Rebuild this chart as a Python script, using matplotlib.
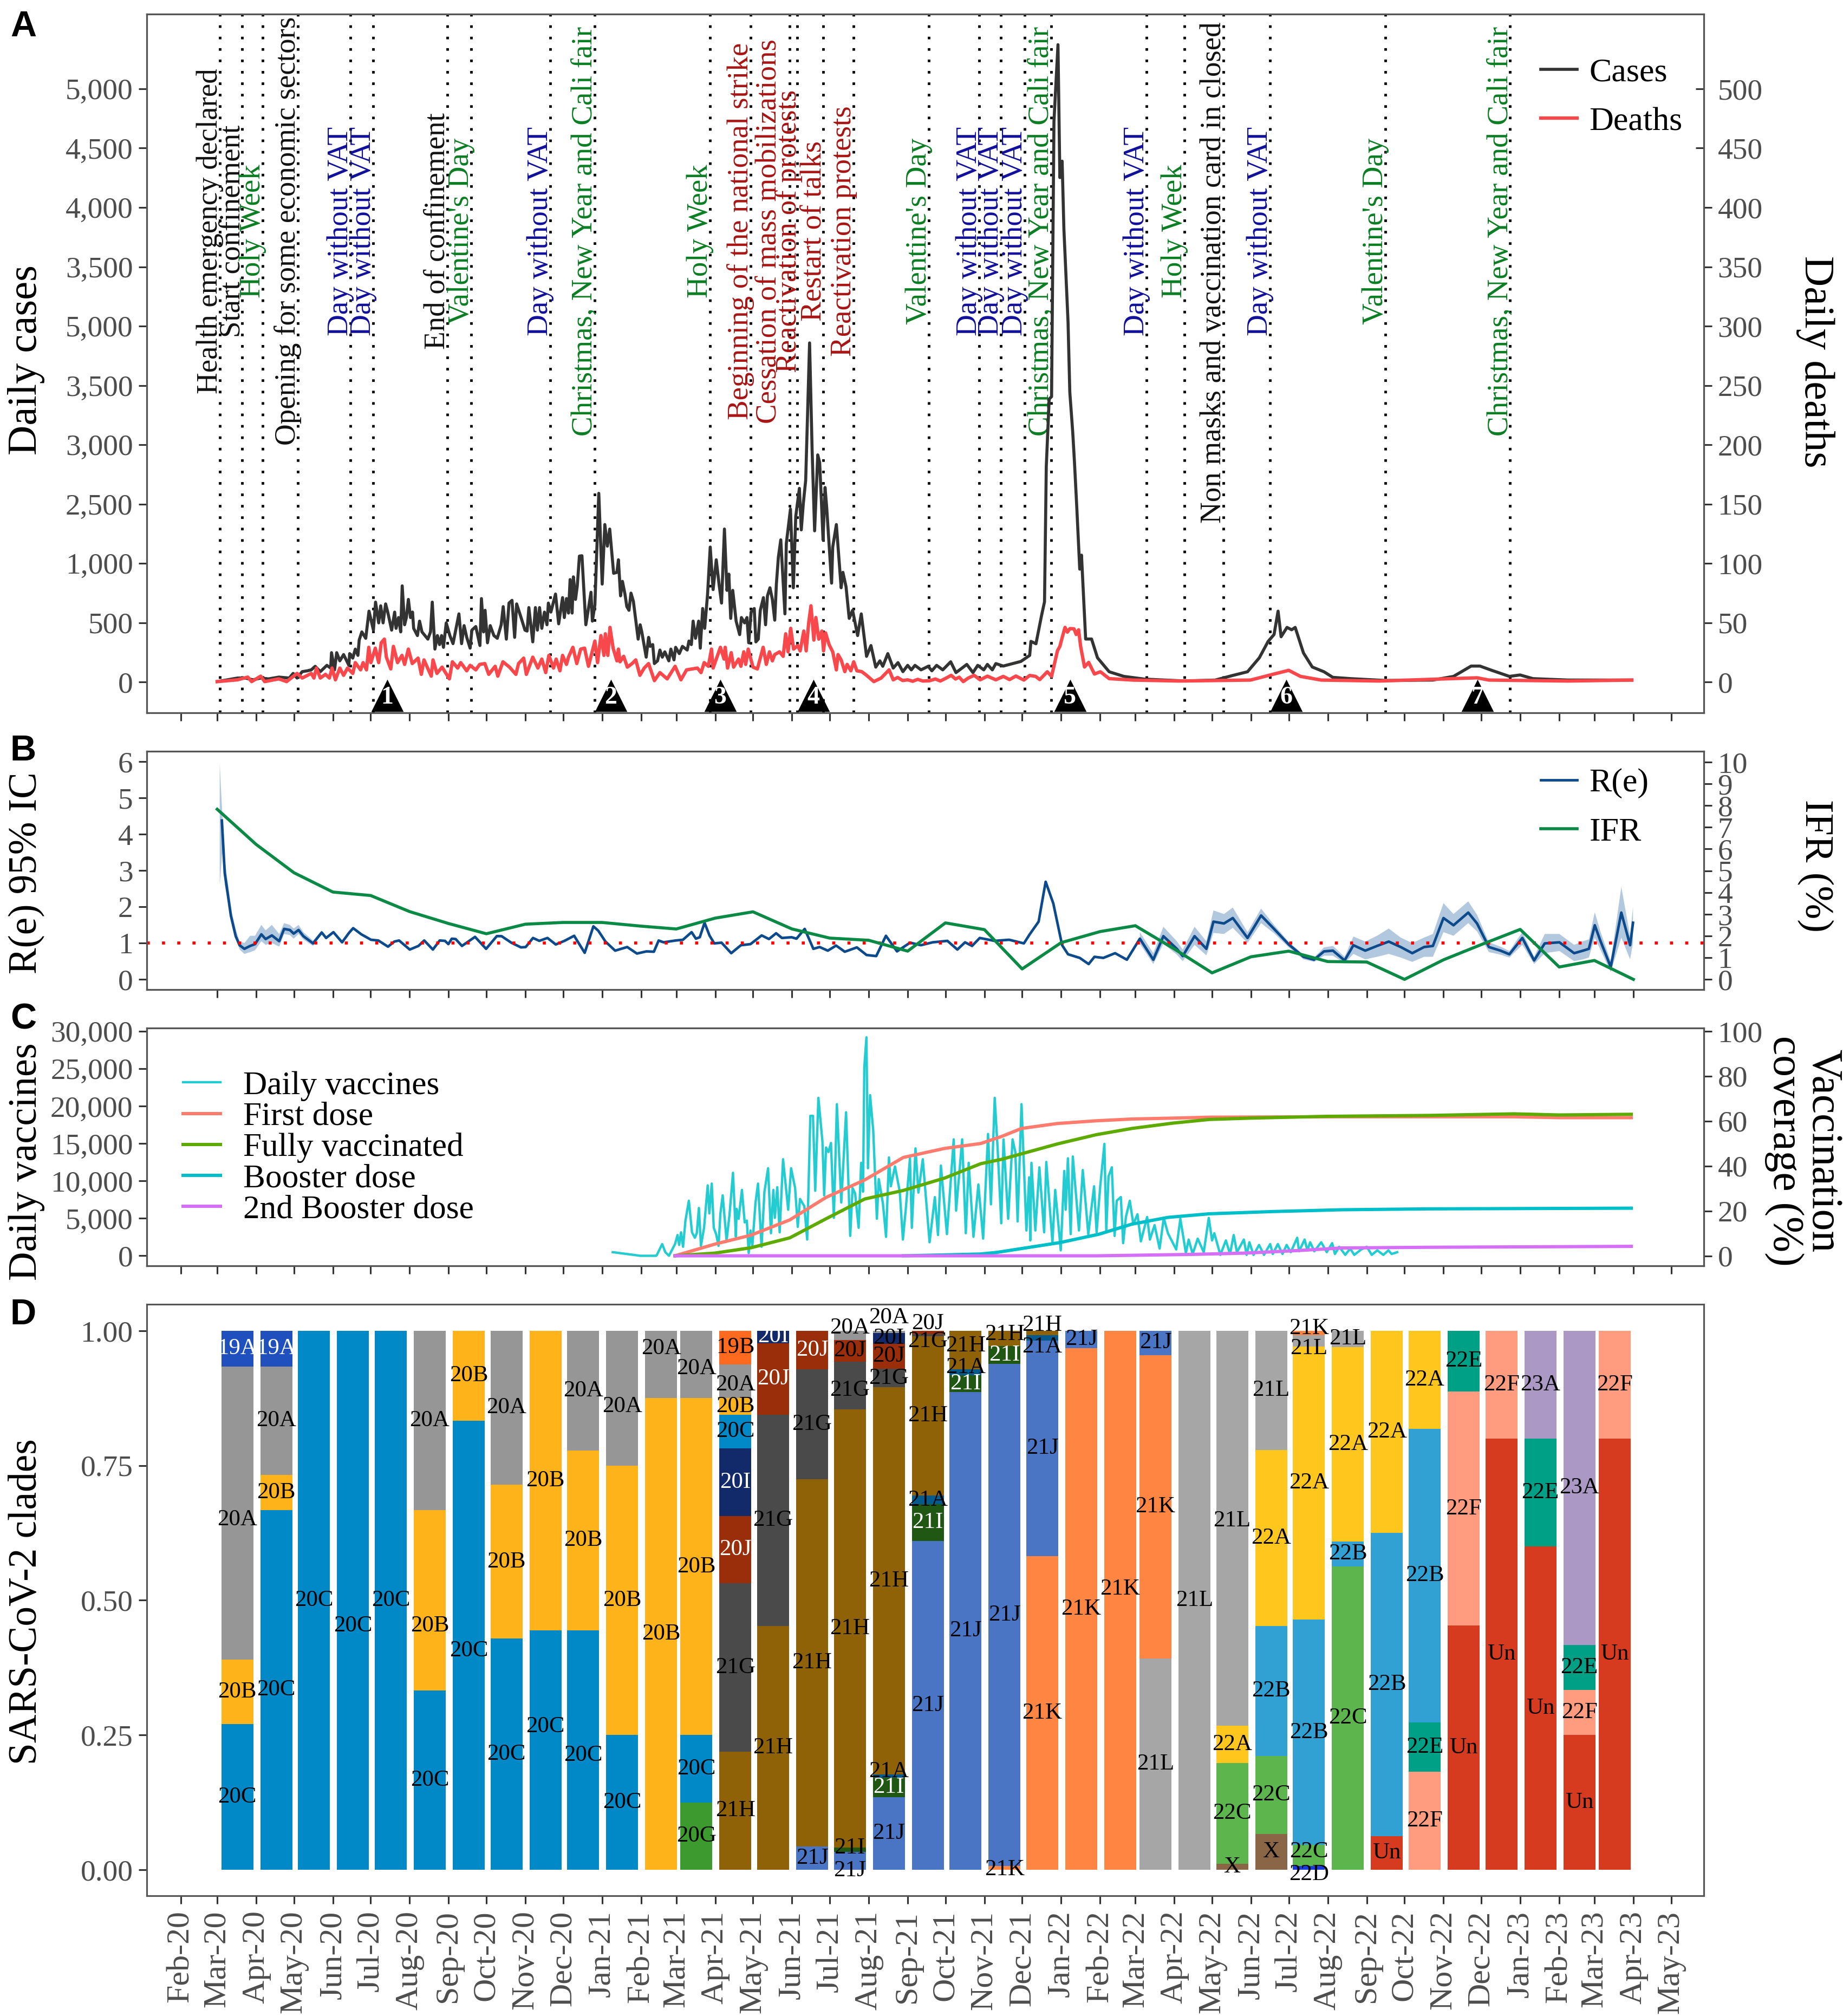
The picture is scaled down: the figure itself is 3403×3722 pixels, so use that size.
import datetime
import numpy as np
import pandas as pd
import matplotlib
matplotlib.use("Agg")
import matplotlib.pyplot as plt
import matplotlib.dates as mdates
import matplotlib.lines as mlines

plt.rcParams['font.family'] = ['Liberation Serif', 'DejaVu Serif']

W, H = 3404, 3722

# ---- panel A: (days since 1 Mar 2020, value)
cases_pts = [(0,3),(16.1,33),(22.3,33),(28.5,18),(34.6,33),(40.8,26),(49.1,41),(57.3,33),(60.4,72),(63.5,33),
    (67.6,87),(71.7,94),(74.8,102),(77.9,132),(82,87),(87.2,140),(90.2,117),(90.9,247),(93.3,102),(95,247),
    (97.5,178),(100.5,231),(104.7,140),(105.3,239),(107.8,201),(109.8,277),(111.9,224),(112.9,353),(115,422),(118.1,368),
    (120.7,597),(124.2,437),(125.9,673),(128.4,498),(130,642),(131.9,498),(133.9,658),(135.6,589),(138.7,437),(141.1,589),
    (142.2,452),(144.2,543),(145.9,422),(147.1,810),(149,482),(150.4,543),(152,696),(153.7,543),(155.3,589),(156.2,452),
    (159.2,391),(160.9,513),(162.8,422),(167.5,361),(169.6,422),(171,673),(173.1,277),(175.1,391),(176.8,315),(178.4,391),
    (179.9,292),(182.1,498),(185,391),(187.5,323),(192.2,574),(194.3,323),(196.3,475),(198.4,376),(201.1,285),(202.5,437),
    (205.6,467),(208.9,307),(210.1,703),(211.8,422),(213,604),(214.9,330),(217.1,475),(220,391),(222.7,368),(225.8,482),
    (227.4,635),(229.9,361),(232,665),(234.4,688),(236.5,376),(238.1,658),(241.6,543),(244.7,437),(246.4,429),(247.8,627),
    (250.9,338),(253,627),(254.6,437),(256.3,627),(258.1,452),(260.2,589),(262.2,482),(263.3,665),(265.3,589),(269,741),
    (271.5,490),(274.6,711),(276,543),(277.7,703),(279.3,581),(280.6,863),(282.2,581),(283.2,886),(284.9,696),(286.3,810),
    (288,1061),(290,1064),(293.1,482),(295.2,619),(297.2,756),(298.3,513),(300.3,650),(303.4,1590),(306.1,825),(308.2,1327),
    (310.2,1145),(312.1,1289),(315.2,916),(317.8,924),(319,1030),(320.7,726),(322.2,848),(324.2,741),(325.7,635),(327.4,604),
    (329,749),(330.9,680),(334.7,361),(336.3,482),(337.6,422),(341.1,209),(343,376),(344.3,300),(346.3,315),(347.6,155),
    (350.1,178),(352,269),(353.9,209),(355.9,254),(359.1,178),(360.7,277),(363.2,186),(364.5,292),(367.4,239),(369.9,300),
    (373.7,269),(375.1,345),(377,315),(378.4,513),(380.3,368),(382.8,513),(384.1,285),(386,619),(387.6,452),(389.9,741),
    (392,1137),(394.3,779),(396.8,1030),(399.1,817),(401,665),(403.3,1289),(405.3,772),(406.8,909),(408.3,536),(409.9,772),
    (412.6,513),(415.4,399),(416.8,543),(419.3,498),(421.2,543),(422.6,330),(424.5,589),(427,619),(428.3,338),(430.2,361),
    (431.8,604),(434.3,711),(436,482),(437.5,726),(439.5,794),(441.4,696),(443.3,521),(444.6,825),(446.2,1053),(448.1,1198),
    (451.4,574),(452.5,1167),(455.8,1457),(458.1,794),(460,1396),(462.9,1632),(464.4,1282),(466,1502),(467.9,1700),(471,2858),
    (473,1960),(475,1274),(477.5,1914),(479,1850),(480.5,1500),(481.7,1198),(483.3,1639),(484.6,1472),(488.5,833),(489.4,1137),
    (492.3,1327),(496.1,794),(497.5,924),(500,802),(502.5,536),(505.2,604),(509.2,391),(512.1,574),(516.3,216),(519.8,307),
    (523.6,125),(526.9,178),(529.2,132),(533.2,239),(537.5,117),(541.3,163),(545.2,87),(549,140),(551.9,102),(554.8,140),
    (559.6,102),(565.3,132),(568.2,94),(572,140),(576.9,102),(583.2,170),(587.4,79),(592.2,117),(596,148),(600.9,79),
    (604.7,140),(609.5,102),(612.4,148),(616.3,102),(619.1,155),(625,134),(639,173),(646,224),(647,342),(651,322),
    (655.4,558),(657.8,676),(659.2,1816),(661.5,2385),(663.4,2405),(665.3,4724),(668.5,5372),(670,4252),(671.8,4390),(673.2,3820),
    (676.5,3034),(677.9,2444),(680.2,2110),(681.6,1855),(683.5,1462),(685.8,951),(687.2,1069),(690.5,362),(695.2,362),(699.9,204),
    (709.2,86),(720.9,47),(737.3,24),(770,8),(793.5,16),(807.5,55),(819.2,86),(828.6,204),(835.6,342),(840.3,400),
    (843.5,597),(845.9,381),(850.6,460),(854.3,440),(857.1,460),(863.7,244),(870.7,126),(880,86),(887,39),(901.1,28),
    (929.2,12),(966.6,16),(983,47),(997,134),(1004,134),(1013.4,98),(1027.4,47),(1035.9,59),(1046.2,28),(1074.2,16),(1124.8,16)]

deaths_pts = [(0,0.3),(16.1,1.8),(24.3,4.1),(27.4,0.3),(34.6,4.9),(37.7,0.3),(49,2.6),(55.2,0.3),(63.5,7.2),(67.6,3.3),
    (74.8,7.2),(76.9,3.3),(78.9,11.7),(82,3.3),(86.1,6.4),(89.2,3.3),(91.3,11.7),(94,1.8),(97.5,11.7),(100.5,5.6),
    (103.6,11.7),(107.8,7.2),(109.8,16.3),(114,10.2),(116,16.3),(118.7,10.2),(120.5,29.2),(122.2,16.3),(125.7,28.5),(128.4,16.3),
    (130.4,33),(132.9,36.1),(134.5,20.9),(138,11),(140.1,30),(143.4,16.3),(146.9,22.4),(149,14.8),(152,27.7),(155.1,15.5),
    (159.7,20.1),(162.3,6.4),(164.4,18.6),(170.2,4.9),(171.6,18.6),(174.7,7.2),(178.8,12.5),(184.6,2.6),(187,17),(191.2,11.7),
    (193.6,16.3),(198.4,9.4),(201.1,14),(205.6,10.2),(208.7,14.8),(212.8,15.5),(215.9,6.4),(221,13.2),(223.1,4.9),(227.2,17),
    (232.4,12.5),(237.5,6.4),(239.6,15.5),(243.7,20.1),(245.8,6.4),(250.9,20.9),(255,11.7),(258.1,19.3),(261.2,7.9),(263.7,22.4),
    (267.4,11.7),(269.5,19.3),(272.5,9.4),(274.6,22.4),(277.7,14.8),(279.3,20.9),(282.8,29.2),(285.9,15.5),(289,27.7),(292.1,28.5),
    (295.2,13.2),(300.3,34.5),(302.4,16.3),(305.1,39.1),(307.5,22.4),(308.6,40.6),(310.6,22.4),(312.3,46),(314.8,28.5),(317.8,17.8),
    (319,27.7),(320.3,17),(323.2,21.6),(326.1,12.5),(329.9,15.5),(332.8,18.6),(336.1,5.6),(339.5,11.7),(343,15.5),(347.6,1.1),
    (352,7.9),(357.8,2.6),(364.1,13.2),(368.7,1.8),(373.2,10.2),(381.8,11.7),(384.7,7.9),(387.2,16.3),(390.5,13.2),(393,27.7),
    (394.3,11.7),(400.1,29.2),(403,19.3),(403.9,29.2),(405.8,11.7),(408.7,24.7),(410.6,12.5),(414.5,19.3),(416.4,13.2),(418.7,25.4),
    (420.2,14.8),(422.2,27.7),(426,12.5),(429.5,11),(434.1,29.2),(436.6,14.8),(439.1,25.4),(441.4,17.8),(443.3,23.1),(447.1,25.4),
    (450,21.6),(452,40.6),(453.9,25.4),(456,45.2),(458.3,27.7),(461.6,30.7),(463.5,26.2),(466.4,42.9),(468.3,26.2),(470.2,49),
    (472.1,64.2),(474.4,35.3),(476,54.3),(478.3,36.1),(480.8,42.9),(482.1,26.2),(483.7,41.4),(486.5,31.5),(489.4,25.4),(492.3,10.2),
    (493.6,23.1),(496.1,18.6),(499,8.7),(500.9,14.8),(503.8,9.4),(506.1,17),(508.6,9.4),(512.5,8.7),(516.3,5.6),(522.1,0.3),
    (527.9,3.3),(534.2,10.2),(537.5,1.8),(541,3.8),(545,1.2),(549,1.8),(553,0.6),(557,2.2),(561,0.8),(566.3,1),
    (571,2.5),(575,0.8),(580,3.5),(583.6,5.6),(587,2.5),(590,4),(593.2,0.3),(597,3.2),(601.8,5.6),(606.6,1.8),
    (612.4,4.9),(619.1,1.8),(625,4.7),(630,2),(635,5),(641.4,1.6),(646,5.5),(650.7,4.7),(654,2),(660,8.6),
    (663.4,4.7),(668.1,26.3),(670,30),(672,38),(674.1,46),(676,42),(678,45),(681.2,44.8),(683,40),(684.9,44),
    (686.5,30),(689.6,12.6),(692.9,16.5),(697.5,6.7),(702.2,8.6),(709.2,2.8),(728,1.6),(765.4,0.8),(821.6,1.6),(840.3,6.7),
    (852,9.8),(861.3,4.7),(877.7,1.6),(924.5,0.8),(1001.7,3.5),(1011.1,1.6),(1074.2,0.8),(1124.8,1.6)]

cases_ticklabels = ['0', '500', '1,000', '2,500', '3,000', '3,500', '5,000', '3,500', '4,000', '4,500', '5,000']

event_names = ['Health emergency declared', 'Start confinement', 'Holy Week', 'Opening for some economic sectors',
    'Day without VAT', 'Day without VAT', 'End of confinement', "Valentine's Day", 'Day without VAT',
    'Christmas, New Year and Cali fair', 'Holy Week', 'Beginning of the national strike',
    'Cessation of mass mobilizations', 'Reactivation of protests', 'Restart of talks', 'Reactivation protests',
    "Valentine's Day", 'Day without VAT', 'Day without VAT', 'Day without VAT', 'Christmas, New Year and Cali fair',
    'Day without VAT', 'Holy Week', 'Non masks and vaccination card in closed', 'Day without VAT', "Valentine's Day",
    'Christmas, New Year and Cali fair']
event_dates = ['2020-03-03', '2020-03-21', '2020-04-06', '2020-05-04', '2020-06-15', '2020-07-03', '2020-08-31',
    '2020-09-19', '2020-11-21', '2020-12-26', '2021-03-28', '2021-04-29', '2021-05-30', '2021-06-05', '2021-06-26',
    '2021-07-20', '2021-09-18', '2021-10-28', '2021-11-14', '2021-12-03', '2021-12-24', '2022-03-10', '2022-04-09',
    '2022-05-10', '2022-06-16', '2022-09-16', '2022-12-24']
event_kinds = ['k', 'k', 'g', 'k', 'b', 'b', 'k', 'g', 'b', 'g', 'g', 'r', 'r', 'r', 'r', 'r', 'g', 'b', 'b', 'b', 'g',
    'b', 'g', 'k', 'b', 'g', 'g']
wave_dates = ['2020-07-14', '2021-01-08', '2021-04-05', '2021-06-18', '2022-01-08', '2022-06-29', '2022-11-28']

# ---- panel B
re_pts = [(3.7,4.38),(6,2.93),(10.9,1.75),(14.7,1.19),(17.8,0.94),(21.6,0.84),(26.2,0.92),(30.1,0.97),(35.1,1.24),(38.5,1.11),
    (43.5,1.21),(49.3,1.05),(53.2,1.39),(57.8,1.36),(60.8,1.26),(64.7,1.36),(68.5,1.19),(76.2,0.99),(83.1,1.29),(86.6,1.14),
    (92.4,1.30),(99.3,1.02),(105,1.29),(108.1,1.41),(114.6,1.24),(122.3,1.09),(128.1,1.07),(135.8,0.9),(140.8,1.04),(144.6,1.07),
    (153.1,0.82),(160,0.92),(164.6,1.07),(171.5,0.82),(176.9,1.07),(181.1,1.06),(183.8,0.97),(186.5,1.12),(189.6,1.11),(194.6,0.92),
    (205,1.17),(213.8,0.84),(222.3,1.19),(226.1,1.19),(233.8,1.01),(241.5,0.88),(245.3,0.89),(251.1,1.14),(256.1,1.06),(262.6,1.14),
    (269.2,0.96),(276.1,1.06),(283.8,1.2),(292.2,0.73),(299.1,1.46),(303,1.34),(308.7,1.04),(316.4,0.79),(326,0.89),(333.7,0.71),
    (341.4,0.77),(347.2,0.76),(351,1.07),(354.9,1.02),(364.5,1.07),(370.3,1.09),(377.2,1.3),(380.6,1.12),(383.7,1.16),(387.5,1.56),
    (391.4,1.21),(395.2,0.99),(401,1.01),(408.7,0.72),(416.4,0.94),(424,0.97),(432.9,1.21),(438.7,1.11),(444.4,1.27),(449,1.14),
    (456.7,1.16),(460.6,1.12),(467.1,1.39),(474,0.84),(479,0.89),(485.5,0.79),(492.1,0.93),(499,0.76),(508.6,0.88),(516.3,0.67),
    (524,0.64),(531.7,1.2),(540.5,0.77),(550.9,1.01),(559.5,0.94),(568.9,1.02),(580.6,1.06),(588.5,0.82),(594.6,1.02),(600.2,0.92),
    (606.3,1.14),(618,1.06),(629.7,1.09),(641.4,0.99),(646,1.24),(653.1,1.59),(658.7,2.69),(664.8,2.09),(671.8,0.94),(676.5,0.69),
    (685.8,0.59),(692.9,0.42),(697.5,0.62),(704.6,0.59),(713.9,0.72),(723.3,0.54),(733.6,1.12),(744.3,0.54),(752.3,1.19),(763,0.84),
    (767.7,0.64),(777.1,1.19),(786.5,0.84),(792.1,1.59),(800.5,1.54),(807.5,1.69),(819.2,1.14),(830,1.76),(840.3,1.39),(852,0.96),
    (863.7,0.62),(872.1,0.54),(880,0.77),(887.1,0.79),(896.4,0.52),(903.4,0.94),(912.8,0.79),(922.2,0.92),(931.5,1.04),(941,0.89),
    (950.2,0.72),(959.6,0.89),(966.6,0.92),(975,1.69),(983,1.49),(994.7,1.84),(1001.7,1.54),(1011.1,0.89),(1020.4,0.79),(1027.4,0.69),
    (1037.7,1.14),(1047.1,0.52),(1055.5,0.99),(1067.2,1.02),(1078.9,0.72),(1086,0.79),(1090.6,0.84),(1095.3,1.49),(1100,1.04),(1108,0.34),
    (1116.4,1.84),(1123.4,0.94),(1125.7,1.56)]

band1_hi = [(2,5.95),(4,4.6),(6,3.3),(11.6,1.85),(15,1.35),(17.8,1.05),(21.6,1.0),(26.2,1.2),(30.1,1.2),(35.1,1.5),(38.5,1.35),
    (43.5,1.5),(49.3,1.25),(53.2,1.55),(57.8,1.5),(60.8,1.4),(64.7,1.5),(68.5,1.3),(76.2,1.07),(83.1,1.35)]
band1_lo = [(2,2.6),(4,3.5),(6,2.6),(11.6,1.6),(15,1.1),(17.8,0.82),(21.6,0.7),(26.2,0.75),(30.1,0.8),(35.1,1.05),(38.5,0.95),
    (43.5,1.0),(49.3,0.9),(53.2,1.25),(57.8,1.22),(60.8,1.12),(64.7,1.25),(68.5,1.1),(76.2,0.92),(83.1,1.25)]
band2_hi = [(733.6,1.3),(744.3,0.72),(752.3,1.45),(763,1.05),(767.7,0.82),(777.1,1.45),(786.5,1.05),(792.1,1.9),(800.5,1.8),(807.5,1.98),
    (819.2,1.3),(830,1.95),(840.3,1.5),(852,1.03),(863.7,0.68),(872.1,0.6),(880,0.88),(887.1,0.92),(896.4,0.62),(903.4,1.18),(912.8,1.04),
    (922.2,1.2),(931.5,1.4),(941,1.15),(950.2,1.0),(959.6,1.15),(966.6,1.25),(975,2.1),(983,1.8),(994.7,2.15),(1001.7,1.78),(1011.1,1.02),
    (1020.4,0.9),(1027.4,0.78),(1037.7,1.3),(1047.1,0.62),(1055.5,1.25),(1067.2,1.25),(1078.9,0.95),(1086,1.05),(1090.6,1.1),(1095.3,1.85),
    (1100,1.3),(1108,0.5),(1116.4,2.55),(1123.4,1.2),(1125.7,2.0)]
band2_lo = [(733.6,0.98),(744.3,0.42),(752.3,0.98),(763,0.68),(767.7,0.5),(777.1,0.95),(786.5,0.66),(792.1,1.28),(800.5,1.25),(807.5,1.42),
    (819.2,1.0),(830,1.55),(840.3,1.27),(852,0.88),(863.7,0.55),(872.1,0.48),(880,0.65),(887.1,0.65),(896.4,0.44),(903.4,0.7),(912.8,0.55),
    (922.2,0.62),(931.5,0.7),(941,0.6),(950.2,0.48),(959.6,0.62),(966.6,0.62),(975,1.3),(983,1.2),(994.7,1.55),(1001.7,1.32),(1011.1,0.75),
    (1020.4,0.68),(1027.4,0.6),(1037.7,0.95),(1047.1,0.42),(1055.5,0.72),(1067.2,0.78),(1078.9,0.5),(1086,0.55),(1090.6,0.6),(1095.3,1.15),
    (1100,0.8),(1108,0.2),(1116.4,1.15),(1123.4,0.55),(1125.7,1.0)]

# IFR is monthly, one value per month from Mar-20 to Apr-23
ifr = [7.83, 6.21, 4.91, 4.02, 3.86, 3.12, 2.57, 2.10, 2.54, 2.62, 2.62, 2.45, 2.32, 2.82, 3.11, 2.32, 1.90, 1.80, 1.30,
       2.60, 2.29, 0.48, 1.69, 2.20, 2.47, 1.40, 0.30, 1.04, 1.30, 0.82, 0.80, 0.0, 0.90, 1.60, 2.30, 0.57, 0.87, 0.0]

# ---- panel C
daily_vaccines_pts = [(314.5,485),(336.5,0),(349,0),(349.6,120),(353.8,1568),(356.3,482),(359.2,0),(364,1568),(366,2774),(367.3,1447),
    (368.8,3136),(370.4,1206),(372.3,4703),(375,7357),(377.5,3136),(379.8,2412),(381.3,3015),(383,6392),(384.6,1327),(387.1,3739),
    (390,9407),(391.3,5668),(393.2,9648),(394.8,3739),(396.7,2894),(398.6,1327),(400.1,5668),(401.9,8080),(405,2050),(407.3,5427),
    (410.1,11095),(412.4,2533),(413,6271),(414.6,4944),(417.2,8804),(419.4,4462),(421.1,4703),(422.6,362),(424,3377),(425.5,1327),
    (428,7115),(430,9648),(432.8,1206),(435.1,8563),(438,11698),(440.3,3015),(442.2,8804),(443.4,5065),(445.3,9166),(447.2,3136),
    (449.9,12904),(452.4,8804),(454,6151),(456.3,11698),(459.5,9045),(461.6,3859),(463.4,7598),(466.8,6633),(469.1,2171),(471.6,18693),
    (473.7,18693),(475.5,8684),(478,21105),(481.2,15317),(482.6,8080),(484.1,14472),(486,13869),(488,15075),(490.3,5065),(492.7,20261),
    (496.2,7115),(500,19175),(503.3,2653),(505.2,9045),(507.2,8321),(510,3739),(512,12422),(513.5,8563),(514.5,25205),(516.2,29185),
    (517.4,11698),(519.1,21467),(521.6,16763),(524.5,4944),(526,10251),(529.3,6995),(531.8,2533),(534.1,13145),(535.6,9286),(538.9,11939),
    (542.7,8563),(545.2,2171),(547.5,6271),(550.8,13025),(552.3,3739),(555.2,14351),(557.5,8442),(561,12904),(566.4,1809),(570.6,7839),
    (573.1,2774),(575.4,12060),(580.2,2894),(585.6,15558),(587.5,6030),(592.3,15558),(595.2,3015),(597.5,12422),(601.3,2533),(605.2,9527),
    (609,2292),(612.9,16281),(615.2,6874),(618.2,21105),(620.5,14351),(623.4,4342),(625.2,15557),(628.9,4944),(632.4,15557),(634.6,13869),
    (636.4,4583),(639.5,20261),(643.4,3377),(645.6,10492),(646.5,2050),(647.4,12422),(650.5,3377),(653.7,11818),(657.5,3136),(659.2,12542),
    (664.1,1809),(666.3,8804),(670.7,724),(673.5,11336),(674.6,6151),(676.4,13025),(678.6,2894),(680.3,13266),(685.2,3377),(688.2,11457),
    (692.6,2894),(697.2,9286),(699.2,3136),(702.1,9286),(705.4,14954),(706.9,3377),(708.7,10613),(711.3,11818),(713.5,2653),(715.2,7357),
    (718.5,7839),(720.3,1688),(722.5,5186),(725.6,7357),(728.4,4221),(731.7,5548),(734.4,1930),(739.4,5186),(741.6,2171),(745.3,4100),
    (749.3,965),(752.6,5065),(755.9,3015),(762.5,844),(765.8,4944),(770.2,362),(772.4,2171),(775.6,241),(779.6,2291),(784.4,482),
    (788.4,5065),(791,2050),(792.8,3015),(797.6,120),(802,2050),(805.3,241),(808.2,2774),(810.8,482),(816.3,2171),(818.5,120),
    (820.7,1809),(824,120),(828.4,1447),(832.3,120),(837.2,1568),(839.3,241),(843.3,1568),(847,241),(850.3,1447),(853.6,482),
    (858.7,2412),(860.2,603),(864.6,2171),(866.8,724),(869,1809),(872.3,603),(877.8,1809),(882.2,482),(886.5,1688),(888.7,241),
    (892.1,1206),(896.9,120),(900.8,965),(904.1,120),(909.6,844),(914,1206),(918,120),(922.4,724),(927.2,120),(931.2,724),(933.8,241),(938.2,482)]

first_dose_pts = [(364,0),(395.7,5.2),(424.5,9.2),(455.3,16),(484.1,26),(514.9,33.8),(545.6,43.8),(578.3,47.8),(607.1,50),(624,53.2),
    (639.5,56.7),(668,58.9),(698.8,60.1),(727.3,60.9),(760.3,61.3),(788.8,61.7),(880,61.9),(1031,61.9),(1067,61.5),(1124.3,61.5)]
fully_vacc_pts = [(364,0),(395.7,1.2),(424.5,3.6),(455.3,8),(484.1,16.5),(514.9,25.3),(545.6,29.1),(578.3,34.6),(607.1,41),(624,43),
    (639.5,45.4),(668,49.8),(698.8,53.9),(727.3,56.7),(760.3,59.1),(788.8,60.7),(821.8,61.3),(883.4,62.1),(964.2,62.5),(1031,63.2),(1067,62.7),(1124.3,63)]
booster_pts = [(545.6,0),(578.3,0.4),(607.1,0.8),(619.7,1.5),(670.2,5.9),(701,9.6),(727.3,14.1),(755.9,17.1),(788.8,18.7),(839.3,19.7),
    (894.3,20.5),(964.2,20.9),(1124.3,21.2)]
booster2_pts = [(364,0),(700,0),(773.5,0.6),(817.4,1.2),(861.3,2.4),(894.3,3.5),(964.2,3.8),(1124.3,4.2)]

# ---- panel D: one bar a month from Mar-20, segments from the top of the bar down
clade_names = [['19A','20A','20B','20C'], ['19A','20A','20B','20C'], ['20C'], ['20C'], ['20C'], ['20A','20B','20C'], ['20B','20C'],
    ['20A','20B','20C'], ['20B','20C'], ['20A','20B','20C'], ['20A','20B','20C'], ['20A','20B'], ['20A','20B','20C','20G'],
    ['19B','20A','20B','20C','20I','20J','21G','21H'], ['20I','20J','21G','21H'], ['20J','21G','21H','21J'],
    ['20A','20J','21G','21H','21I','21J'], ['20A','20I','20J','21G','21H','21A','21I','21J'],
    ['20J','21G','21H','21A','21I','21J'], ['21H','21A','21I','21J'], ['21H','21I','21J','21K'], ['21H','21A','21J','21K'],
    ['21J','21K'], ['21K'], ['21J','21K','21L'], ['21L'], ['21L','22A','22C','X'], ['21L','22A','22B','22C','X'],
    ['21K','21L','22A','22B','22C','22D'], ['21L','22A','22B','22C'], ['22A','22B','Un'], ['22A','22B','22E','22F'],
    ['22E','22F','Un'], ['22F','Un'], ['23A','22E','Un'], ['23A','22E','22F','Un'], ['22F','Un']]
clade_values = [[.067,.543,.12,.27], [.067,.2,.066,.667], [1], [1], [1], [.333,.334,.333], [.167,.833], [.286,.285,.429], [.556,.444],
    [.222,.334,.444], [.25,.5,.25], [.125,.875], [.125,.625,.125,.125], [.0625,.0625,.031,.0625,.125,.125,.3125,.219],
    [.023,.133,.392,.452], [.072,.203,.682,.043], [.017,.04,.089,.813,.008,.033], [.004,.02,.047,.034,.718,.006,.036,.135],
    [.006,.004,.296,.016,.068,.61], [.072,.011,.031,.886], [.028,.034,.931,.007], [.008,.01,.4,.582], [.032,.968], [1],
    [.045,.563,.392], [1], [.733,.069,.187,.011], [.221,.327,.241,.144,.067], [.008,.021,.507,.418,.039,.007], [.03,.361,.046,.563],
    [.375,.5625,.0625], [.182,.545,.091,.182], [.113,.434,.453], [.2,.8], [.2,.2,.6], [.583,.083,.084,.25], [.2,.8]]

clade_colors = {'19A': '#1F50BE', '19B': '#FF6A1E', '20A': '#969696', '20B': '#FFB31B', '20C': '#0088C7', '20G': '#3D9A2E',
    '20I': '#12296A', '20J': '#9A2E0A', '21A': '#045A8D', '21G': '#4A4A4A', '21H': '#8F6208', '21I': '#1F5713',
    '21J': '#4A74C4', '21K': '#FF8543', '21L': '#A6A6A6', '22A': '#FFC61E', '22B': '#31A0D3', '22C': '#5CB54D',
    '22D': '#1B3BE0', '22E': '#00A087', '22F': '#FF9B7F', '23A': '#AC98C5', 'Un': '#D63A1F', 'X': '#8B6646'}

# labels were pushed off their segment in the original, (bar, clade) -> shift on the y axis
label_shift = {(0,'20A'):-.012, (3,'20C'):-.047, (5,'20B'):-.047, (6,'20C'):-.01, (8,'20C'):.044, (9,'20C'):-.01, (10,'20A'):-.016,
    (11,'20A'):.029, (12,'20A'):-.008, (13,'20A'):-.007, (16,'20A'):.014, (16,'21G'):-.009, (16,'21I'):.004, (16,'21J'):-.018,
    (17,'20A'):.026, (17,'21A'):.008, (18,'20J'):.016, (18,'21G'):-.012, (19,'21H'):.008, (19,'21A'):.009, (20,'21H'):.007,
    (20,'21K'):-.003, (21,'21H'):.014, (21,'21A'):-.017, (23,'21K'):.021, (26,'21L'):.014, (28,'21K'):.008, (28,'21L'):-.015,
    (28,'22C'):.007, (28,'22D'):-.012}
white_clades = ['19A', '20I', '20J', '21I']
black_exceptions = [(16,'20J'), (16,'21I'), (17,'20I'), (17,'20J'), (18,'20J')]

# ---------------------------------------------------------------- helpers
day0 = mdates.date2num(datetime.date(2020, 3, 1))
month_ticks = mdates.date2num(pd.date_range('2020-02-01', '2023-05-01', freq='MS').to_pydatetime())
month_labels = [d.strftime('%b-%y') for d in pd.date_range('2020-02-01', '2023-05-01', freq='MS')]
xlim = (mdates.date2num(datetime.date(2020, 1, 5)), mdates.date2num(datetime.date(2023, 5, 27)))

GREY = '#4D4D4D'
EDGE = '#555555'
TICK = 13.3
event_col = {'k': '#111111', 'b': '#0F0F9A', 'g': '#0A7D22', 'r': '#A81414'}
# labels sit a little off their dotted line, in days
event_nudge = {'Cessation of mass mobilizations': -5.5, 'Reactivation of protests': 4.5}


def unpack(pts):
    return day0 + np.array([p[0] for p in pts]), np.array([p[1] for p in pts])


def panel(y_top, y_bottom):
    ax = fig.add_axes([271 / W, 1 - y_bottom / H, (3146 - 271) / W, (y_bottom - y_top) / H])
    ax.set_xlim(xlim)
    return ax


def style(ax):
    for s in ax.spines.values():
        s.set_color(EDGE)
        s.set_linewidth(0.75)
    ax.tick_params(axis='both', length=3.6, width=0.75, color='#333333', labelcolor=GREY, labelsize=TICK, pad=2.5)


def top_legend(ax, handles, y_pos):
    ax.legend(handles=handles, loc='upper left', bbox_to_anchor=((2845 - 271) / (3146 - 271), y_pos), frameon=False,
              fontsize=14.9, handlelength=1.08, handletextpad=0.36, labelspacing=0.55, borderpad=0, borderaxespad=0)


fig = plt.figure(figsize=(W / 300, H / 300), dpi=300, facecolor='white')

# ---------------------------------------------------------------- A
axA = panel(26, 1316)
axA.set_ylim(-260, 5630)
for name, date, kind in zip(event_names, event_dates, event_kinds):
    x = mdates.date2num(datetime.date.fromisoformat(date))
    axA.axvline(x, color='black', lw=1.15, ls=(0, (1, 3.4)), zorder=1)
    ypos = 3450 if name.startswith('Non masks') else 3800
    axA.text(x + event_nudge.get(name, 3), ypos, name, rotation=90, ha='right', va='center', color=event_col[kind],
             fontsize=13.2, zorder=3)
d, v = unpack(cases_pts)
lineA, = axA.plot(d, v, color='#333333', lw=1.35, zorder=4, label='Cases')
axA.set_yticks(np.arange(0, 5001, 500))
axA.set_yticklabels(cases_ticklabels)
axA.set_xticks(month_ticks)
axA.set_xticklabels([])
style(axA)
wave_x = mdates.date2num(pd.to_datetime(wave_dates).to_pydatetime())
axA.scatter(wave_x, [-112] * len(wave_x), marker='^', s=205, color='black', linewidths=0, zorder=5)
for i, x in enumerate(wave_x):
    axA.text(x, -130, str(i + 1), color='white', ha='center', va='center', fontsize=11, fontweight='bold', zorder=6)

axA2 = axA.twinx()
axA2.set_ylim(-26, 563)
d, v = unpack(deaths_pts)
lineA2, = axA2.plot(d, v, color='#F8484C', lw=1.5, zorder=5, label='Deaths')
axA2.set_yticks(np.arange(0, 501, 50))
style(axA2)
for t in axA2.yaxis.get_major_ticks()[-2:]:
    t.tick2line.set_marker(mlines.TICKLEFT)
top_legend(axA2, [lineA, lineA2], 0.938)

# ---------------------------------------------------------------- B
axB = panel(1387, 1827)
axB.set_ylim(-0.284, 6.29)
for hi, lo in ((band1_hi, band1_lo), (band2_hi, band2_lo)):
    xh, yh = unpack(hi)
    xl, yl = unpack(lo)
    axB.fill(np.r_[xh, xl[::-1]], np.r_[yh, yl[::-1]], color='#3F76AE', alpha=0.4, lw=0, zorder=2)
d, v = unpack(re_pts)
lineB, = axB.plot(d, v, color='#0D4A8C', lw=1.15, zorder=3, label='R(e)')
axB.axhline(1, color='red', lw=1.35, ls=(0, (1, 4)), zorder=4)
axB.set_yticks(range(7))
ifr_ticks = mdates.date2num(pd.date_range('2020-03-01', '2023-04-01', freq='MS').to_pydatetime())
axB.set_xticks(ifr_ticks)
axB.set_xticklabels([])
style(axB)

axB2 = axB.twinx()
axB2.set_ylim(-0.47, 10.5)
lineB2, = axB2.plot(ifr_ticks, ifr, color='#0A8A45', lw=1.35, label='IFR')
axB2.set_yticks(range(11))
style(axB2)
top_legend(axB2, [lineB, lineB2], 0.93)

# ---------------------------------------------------------------- C
axC = panel(1898, 2337)
axC.set_ylim(-1340, 30430)
d, v = unpack(daily_vaccines_pts)
lineC, = axC.plot(d, v, color='#22CCD0', lw=1.05, label='Daily vaccines')
axC.set_yticks(np.arange(0, 30001, 5000))
axC.set_yticklabels(['{:,}'.format(t) for t in range(0, 30001, 5000)])
axC.set_xticks(month_ticks)
axC.set_xticklabels([])
style(axC)

axC2 = axC.twinx()
axC2.set_ylim(-4.46, 101.4)
handles = [lineC]
for pts, col, lab in ((first_dose_pts, '#FF7B6D', 'First dose'), (fully_vacc_pts, '#5DAB00', 'Fully vaccinated'),
                      (booster_pts, '#00BFC9', 'Booster dose'), (booster2_pts, '#D56FF5', '2nd Booster dose')):
    d, v = unpack(pts)
    ln, = axC2.plot(d, v, color=col, lw=1.45, label=lab)
    handles.append(ln)
axC2.set_yticks(range(0, 101, 20))
style(axC2)
axC2.legend(handles=handles, loc='upper left', bbox_to_anchor=((338 - 271) / (3146 - 271), 0.82), frameon=False,
            fontsize=14.7, handlelength=1.12, handletextpad=0.7, labelspacing=0.02, borderpad=0, borderaxespad=0)

# ---------------------------------------------------------------- D
axD = panel(2408, 3500)
axD.set_ylim(-0.048, 1.049)
bar_months = mdates.date2num(pd.date_range('2020-03-01', '2023-03-01', freq='MS').to_pydatetime()) + 16
for i, (x, names, vals) in enumerate(zip(bar_months, clade_names, clade_values)):
    top = float(sum(vals))
    for name, val in zip(names, vals):
        axD.bar(x, val, bottom=top - val, width=25.4, color=clade_colors[name], linewidth=0)
        col = 'white' if name in white_clades and (i, name) not in black_exceptions else 'black'
        axD.text(x, top - val / 2 + label_shift.get((i, name), 0), name, color=col, ha='center', va='center', fontsize=10.3, zorder=5)
        top -= val
axD.set_yticks([0, 0.25, 0.5, 0.75, 1.0])
axD.set_yticklabels(['0.00', '0.25', '0.50', '0.75', '1.00'])
axD.set_xticks(month_ticks)
axD.set_xticklabels(month_labels, rotation=90, ha='center', va='top')
style(axD)
axD.tick_params(axis='x', labelsize=14.4, pad=3)

# ---------------------------------------------------------------- outer labels
def outer(x, y, s, rot, size=17.5, spacing=1.0):
    fig.text(x / W, 1 - y / H, s, rotation=rot, ha='center', va='center', fontsize=size, color='black', linespacing=spacing)


outer(49, 665, 'Daily cases', 90, 18.4)
outer(3352, 668, 'Daily deaths', 270, 18.7)
outer(49, 1612, 'R(e) 95% IC', 90, 17.5)
outer(3352, 1599, 'IFR (%)', 270, 17.8)
outer(49, 2145, 'Daily vaccines', 90, 17.8)
outer(3330, 2125, 'Vaccination\ncoverage (%)', 270, 19.1, 0.98)
outer(49, 2957, 'SARS-CoV-2 clades', 90, 17.6)
for letter, y in zip('ABCD', (50, 1387, 1882, 2428)):
    fig.text(43 / W, 1 - y / H, letter, ha='center', va='center', fontsize=16, fontweight='bold', family='Liberation Sans')

fig.savefig('out.png', dpi=300)
